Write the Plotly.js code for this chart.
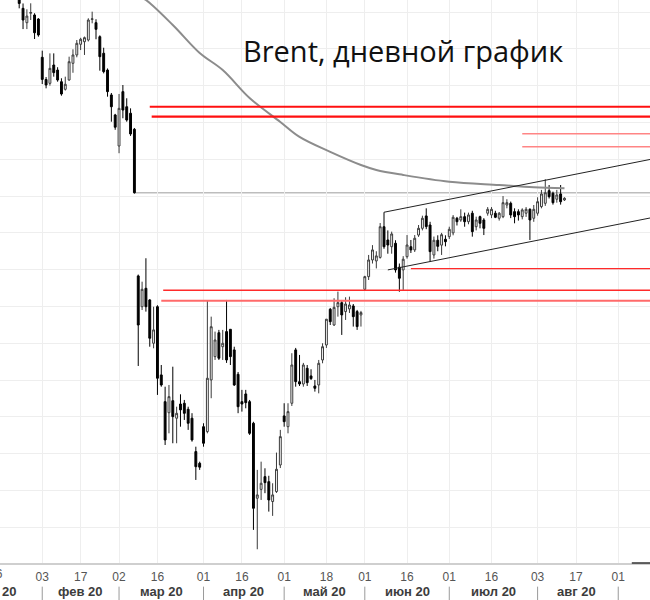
<!DOCTYPE html>
<html><head><meta charset="utf-8">
<script src="https://cdn.plot.ly/plotly-3.0.1.min.js"></script>
<style>html,body{margin:0;padding:0;background:#fff;}</style>
</head><body>
<div id="chart" style="width:650px;height:600px;"></div>
<script>
// ---- candle data (trading days) ----
const dates = [
'2020-01-20','2020-01-21','2020-01-22','2020-01-23','2020-01-24','2020-01-27','2020-01-28','2020-01-29','2020-01-30','2020-01-31',
'2020-02-03','2020-02-04','2020-02-05','2020-02-06','2020-02-07','2020-02-10','2020-02-11','2020-02-12','2020-02-13','2020-02-14',
'2020-02-17','2020-02-18','2020-02-19','2020-02-20','2020-02-21','2020-02-24','2020-02-25','2020-02-26','2020-02-27','2020-02-28',
'2020-03-02','2020-03-03','2020-03-04','2020-03-05','2020-03-06','2020-03-09','2020-03-10','2020-03-11','2020-03-12','2020-03-13',
'2020-03-16','2020-03-17','2020-03-18','2020-03-19','2020-03-20','2020-03-23','2020-03-24','2020-03-25','2020-03-26','2020-03-27',
'2020-03-30','2020-03-31',
'2020-04-01','2020-04-02','2020-04-03','2020-04-06','2020-04-07','2020-04-08','2020-04-09','2020-04-13','2020-04-14','2020-04-15',
'2020-04-16','2020-04-17','2020-04-20','2020-04-21','2020-04-22','2020-04-23','2020-04-24','2020-04-27','2020-04-28','2020-04-29','2020-04-30',
'2020-05-01','2020-05-04','2020-05-05','2020-05-06','2020-05-07','2020-05-08','2020-05-11','2020-05-12','2020-05-13','2020-05-14',
'2020-05-15','2020-05-18','2020-05-19','2020-05-20','2020-05-21','2020-05-22','2020-05-25','2020-05-26','2020-05-27','2020-05-28','2020-05-29',
'2020-06-01','2020-06-02','2020-06-03','2020-06-04','2020-06-05','2020-06-08','2020-06-09','2020-06-10','2020-06-11','2020-06-12',
'2020-06-15','2020-06-16','2020-06-17','2020-06-18','2020-06-19','2020-06-22','2020-06-23','2020-06-24','2020-06-25','2020-06-26',
'2020-06-29','2020-06-30',
'2020-07-01','2020-07-02','2020-07-03','2020-07-06','2020-07-07','2020-07-08','2020-07-09','2020-07-10','2020-07-13','2020-07-14',
'2020-07-15','2020-07-16','2020-07-17','2020-07-20','2020-07-21','2020-07-22','2020-07-23','2020-07-24','2020-07-27','2020-07-28',
'2020-07-29','2020-07-30','2020-07-31',
'2020-08-03','2020-08-04','2020-08-05','2020-08-06','2020-08-07','2020-08-10','2020-08-11','2020-08-12'
];
const opens = [
65.1,65.2,64.6,63.2,62.0,60.3,59.13,59.90,59.76,59.43,
56.31,54.50,54.19,55.68,55.27,54.32,53.70,54.46,55.82,56.50,
57.37,57.58,57.72,59.40,59.13,57.99,56.64,55.27,53.24,51.61,
49.08,53.51,52.28,51.75,50.44,38.49,35.98,37.48,36.53,33.00,
35.98,30.42,28.24,27.34,28.32,26.89,28.05,28.11,27.62,26.89,
24.17,23.22,
26.20,25.80,30.01,31.91,33.86,32.72,33.95,34.14,32.46,30.47,
28.24,28.87,28.24,26.48,20.37,21.09,22.13,21.72,20.10,20.91,23.08,
27.08,26.20,28.11,32.46,29.87,29.68,30.96,30.34,29.52,29.60,
31.64,32.86,35.77,34.49,35.98,36.31,35.58,35.80,36.04,35.58,35.31,
37.40,38.43,39.79,39.71,40.00,42.50,41.42,40.87,41.15,39.20,
38.98,40.06,40.87,40.61,41.82,42.37,43.38,42.64,40.20,41.40,
41.00,41.48,
41.69,42.00,43.19,43.05,43.32,42.91,43.60,42.50,43.32,43.05,
43.60,43.46,43.60,43.19,43.32,44.27,44.41,43.73,43.73,43.32,
43.60,43.92,43.19,
43.60,44.14,44.41,45.44,45.23,44.74,45.17,44.68
];
const highs = [
65.7,65.3,64.9,63.4,62.3,60.7,60.22,60.71,59.90,59.50,
56.85,54.70,56.63,56.63,55.50,54.60,54.73,56.36,56.96,57.72,
57.90,58.00,59.49,60.03,59.41,58.10,57.09,55.40,53.40,51.70,
53.32,54.05,52.97,52.15,50.55,38.60,38.02,39.93,36.60,35.98,
36.10,31.23,29.46,29.60,31.09,27.83,28.84,28.38,27.83,27.30,
24.57,23.35,
26.48,36.47,35.17,33.95,34.09,34.09,36.53,34.15,32.72,30.66,
29.20,29.20,28.38,26.60,22.68,23.35,22.81,22.20,21.59,24.09,25.94,
28.11,28.11,32.19,32.62,32.05,31.40,31.23,30.88,30.01,31.64,
33.00,34.98,35.88,36.67,37.21,36.53,36.75,36.80,36.20,35.72,35.64,
38.50,40.20,41.00,40.50,42.80,43.68,42.20,42.10,41.40,39.50,
40.10,41.82,41.42,41.82,42.64,43.40,44.00,42.90,41.70,41.80,
42.00,41.80,
42.50,43.45,43.30,43.92,43.65,43.65,43.80,43.32,43.40,43.20,
44.10,44.10,43.80,43.70,45.00,44.74,44.55,44.00,43.92,44.00,
44.10,44.00,44.27,
44.90,45.50,46.37,45.90,45.36,45.50,45.90,44.90
];
const lows = [
64.6,64.0,62.9,61.3,60.3,58.61,58.61,59.35,57.80,57.99,
54.13,53.78,54.00,54.73,54.32,53.18,53.60,54.40,55.05,56.31,
56.90,56.50,57.60,59.08,57.78,55.22,55.00,53.10,51.06,50.40,
48.49,51.34,51.06,49.90,45.20,31.15,35.71,35.58,32.72,32.59,
28.79,29.46,24.71,25.66,24.85,24.85,26.20,26.75,25.94,24.98,
21.86,22.68,
24.57,25.66,28.52,31.64,31.64,31.64,31.40,31.23,29.52,27.30,
27.43,27.70,25.53,17.79,16.21,20.23,20.78,19.28,18.93,20.80,22.83,
26.20,25.66,27.89,29.46,29.52,29.46,29.52,30.01,29.06,28.92,
31.37,32.62,34.49,34.41,35.17,33.68,34.90,35.47,34.36,34.09,34.36,
37.35,38.16,39.50,39.10,39.90,40.70,40.30,40.30,38.76,37.20,
37.35,39.90,40.36,40.44,41.67,42.20,42.30,39.65,39.90,40.50,
40.20,40.90,
41.50,41.80,42.60,42.90,42.50,42.70,41.69,42.20,42.37,41.82,
43.40,43.20,43.20,43.00,43.20,44.00,43.20,42.78,43.00,43.10,
43.30,41.42,42.90,
43.40,44.00,44.20,44.80,44.30,44.46,44.30,44.60
];
const closes = [
65.2,64.6,63.2,62.0,60.7,59.35,59.67,59.96,58.31,58.13,
54.51,54.05,55.41,55.06,54.46,53.32,54.11,55.95,56.50,57.45,
57.78,57.91,59.35,59.44,58.59,56.36,55.14,53.51,52.28,50.61,
52.15,52.01,51.20,50.06,45.27,34.49,37.40,35.98,33.41,34.09,
30.15,29.60,25.12,28.65,27.02,27.29,27.57,27.29,26.48,25.12,
22.94,22.90,
24.85,30.15,34.35,33.27,31.78,33.00,31.64,31.91,29.60,27.83,
28.05,28.16,25.66,19.55,20.64,21.59,21.64,20.23,20.64,22.73,25.39,
26.61,27.43,31.23,29.87,29.68,31.23,29.79,30.12,29.33,31.37,
32.72,34.96,34.76,35.93,36.31,35.31,36.20,36.12,35.17,34.36,35.50,
38.43,39.79,40.61,40.12,42.50,40.87,41.01,41.91,38.98,38.30,
39.85,41.01,40.61,41.56,42.37,43.19,42.51,40.47,41.40,40.90,
41.85,41.28,
42.29,43.27,42.91,43.32,42.91,43.46,42.10,43.05,42.78,42.37,
43.92,43.92,43.27,43.60,44.46,44.46,43.46,43.32,43.46,43.87,
43.92,43.05,43.92,
44.54,45.17,45.27,44.95,44.46,45.09,44.54,44.82
];

// ---- moving average (gray curve) ----
const maDates  = ['2020-03-09','2020-03-11','2020-03-20','2020-03-31','2020-04-08','2020-04-20','2020-04-30','2020-05-07','2020-05-19','2020-05-29','2020-06-04','2020-06-15','2020-07-01','2020-07-20','2020-07-31','2020-08-12'];
const maValues = [61.3,60.98,58.94,56.66,55.27,52.99,51.04,49.82,48.60,47.53,47.13,46.72,46.17,45.90,45.72,45.63];

// ---- horizontal levels ----
const levelPrices = [52.28, 51.47, 50.08, 49.02, 39.08, 37.32, 36.47];
const levelStarts = ['2020-03-12 12:00','2020-03-13 00:00','2020-07-28 12:00','2020-07-28 12:00','2020-06-17 12:00','2020-03-18 00:00','2020-03-17 12:00'];
const gapLevel = 45.27, gapStart = '2020-03-06 12:00';

// ---- trend channel ----
const channelUpperDates = ['2020-06-08 12:00','2020-09-14 12:00'];
const channelUpperPrices = [43.68, 48.15];
const channelLowerDates = ['2020-06-09 12:00','2020-09-14 12:00'];
const channelLowerPrices = [38.98, 43.38];

// ---- axis labels ----
const tickDates = ['2020-02-03','2020-02-17','2020-03-02','2020-03-16','2020-04-01','2020-04-16','2020-05-01','2020-05-18','2020-06-01','2020-06-16','2020-07-01','2020-07-16','2020-08-03','2020-08-17','2020-09-01'];
const tickLabels = ['03','17','02','16','01','16','01','18','01','16','01','16','03','17','01'];
const monthStarts = ['2020-02-03','2020-03-02','2020-04-01','2020-05-01','2020-06-01','2020-07-01','2020-08-03','2020-09-01'];
const monthMids = ['2020-02-17 12:00','2020-03-17 12:00','2020-04-17 00:00','2020-05-18 00:00','2020-06-16 12:00','2020-07-17 00:00','2020-08-17 12:00'];
const monthLabels = ['фев 20','мар 20','апр 20','май 20','июн 20','июл 20','авг 20'];
const titleText = 'Brent, дневной график';

const noon = d => d + ' 12:00';

// ---- styles (separate from data) ----
const levelStyles = [
  {color:'#ff1010', width:2.2},
  {color:'#ff1010', width:2.2},
  {color:'#ff8585', width:1.6},
  {color:'#ff8585', width:1.6},
  {color:'#ff2a2a', width:1.3},
  {color:'#ff2a2a', width:1.3},
  {color:'#ff6a6a', width:2}
];
const xEnd = '2020-09-14 12:00';
const monthFont = {family:'Liberation Sans, Arial, sans-serif', size:13, color:'#3c3c3c', weight:'bold'};
const dayFont = {family:'Liberation Sans Narrow, Liberation Sans, sans-serif', size:12, color:'#555'};

const traces = [
  {
    type:'candlestick',
    x: dates.map(noon), open: opens, high: highs, low: lows, close: closes,
    increasing:{line:{color:'#3a3a3a', width:1}, fillcolor:'#ffffff'},
    decreasing:{line:{color:'#000000', width:1}, fillcolor:'#000000'},
    whiskerwidth:0, hoverinfo:'skip', showlegend:false
  },
  {
    type:'scatter', mode:'lines', x: maDates.map(noon), y: maValues,
    line:{color:'#8c8c8c', width:2, shape:'spline', smoothing:1.0},
    hoverinfo:'skip', showlegend:false
  }
];

const shapes = [];
shapes.push({type:'line', xref:'x', yref:'y', x0:gapStart, x1:xEnd, y0:gapLevel, y1:gapLevel, line:{color:'#bdbdbd', width:1.5}, layer:'below'});
levelPrices.forEach((p,i)=>{
  shapes.push({type:'line', xref:'x', yref:'y', x0:levelStarts[i], x1:xEnd, y0:p, y1:p, line:levelStyles[i]});
});
shapes.push({type:'line', xref:'x', yref:'y', x0:channelUpperDates[0], x1:channelUpperDates[1], y0:channelUpperPrices[0], y1:channelUpperPrices[1], line:{color:'#222', width:1}});
shapes.push({type:'line', xref:'x', yref:'y', x0:channelLowerDates[0], x1:channelLowerDates[1], y0:channelLowerPrices[0], y1:channelLowerPrices[1], line:{color:'#222', width:1}});
monthStarts.forEach(d=>{
  shapes.push({type:'line', xref:'x', yref:'paper', x0:noon(d), x1:noon(d), y0:-0.042, y1:-0.068, line:{color:'#9a9a9a', width:1}});
});
shapes.push({type:'line', xref:'paper', yref:'paper', x0:0.972, x1:1, y0:0, y1:0, line:{color:'#333', width:1.5}});

const annotations = [];
monthMids.forEach((d,i)=>{
  annotations.push({xref:'x', yref:'paper', x:d, y:-0.0665, text:monthLabels[i], showarrow:false,
    xanchor:'center', yanchor:'bottom', borderpad:0, font:monthFont});
});
annotations.push({xref:'paper', yref:'paper', x:-0.006, y:-0.0665, text:'янв 20', showarrow:false, xanchor:'center', yanchor:'bottom', borderpad:0, font:monthFont});
annotations.push({xref:'paper', yref:'paper', x:-0.006, y:-0.006, text:'16', showarrow:false, xanchor:'center', yanchor:'top', borderpad:0, font:dayFont});
annotations.push({xref:'paper', yref:'paper', x:0.62, y:0.911, text:titleText, showarrow:false, xanchor:'center', yanchor:'middle',
  font:{family:'Open Sans, sans-serif', size:29, color:'#111'}});

const layout = {
  width:650, height:600,
  margin:{l:0, r:0, t:0, b:37, pad:0},
  paper_bgcolor:'#ffffff', plot_bgcolor:'#ffffff',
  showlegend:false,
  xaxis:{
    type:'date',
    range:['2020-01-17 12:00','2020-09-11 18:30'],
    rangebreaks:[{bounds:['sat','mon']},{values:['2020-04-10']}],
    rangeslider:{visible:false},
    tickmode:'array', tickvals: tickDates.map(noon), ticktext: tickLabels,
    showgrid:true, gridcolor:'#eeeeee', gridwidth:1,
    showline:true, linecolor:'#cfcfcf', linewidth:1.5,
    ticks:'', ticklabelstandoff:2,
    tickfont: dayFont,
    zeroline:false, fixedrange:true
  },
  yaxis:{
    range:[15.09, 60.98],
    tickmode:'linear', tick0:0, dtick:3,
    showgrid:true, gridcolor:'#eeeeee', gridwidth:1,
    showticklabels:false, ticks:'', zeroline:false, showline:false, fixedrange:true
  },
  shapes: shapes,
  annotations: annotations
};

Plotly.newPlot('chart', traces, layout, {displayModeBar:false, staticPlot:true});
</script>
</body></html>
